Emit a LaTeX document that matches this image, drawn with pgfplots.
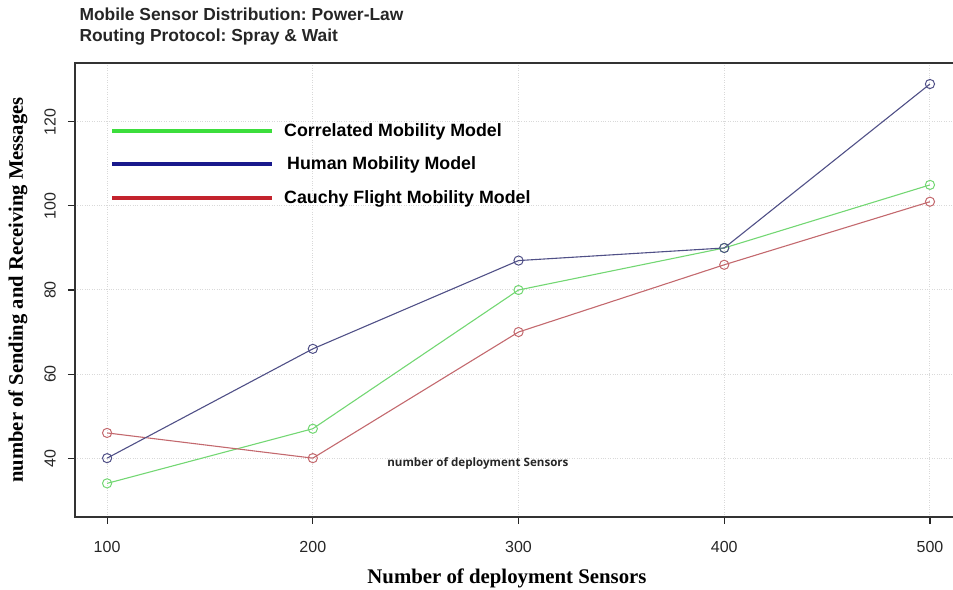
\documentclass[border=0pt]{standalone}
\usepackage{pgfplots}
\pgfplotsset{compat=1.18}
\usepackage{fontspec}
\setmainfont{Liberation Sans}
\newfontfamily\serifb{Liberation Serif}
\newfontfamily\opensans{Open Sans}
\definecolor{cgreen}{RGB}{115,215,115}
\definecolor{cblue}{RGB}{80,80,135}
\definecolor{cred}{RGB}{195,105,110}
\definecolor{lgreen}{RGB}{60,222,60}
\definecolor{lblue}{RGB}{25,25,140}
\definecolor{lred}{RGB}{195,35,45}
\frenchspacing
\begin{document}
\begin{tikzpicture}
\path[use as bounding box] (-75pt,-72pt) rectangle (878pt,517pt);
\begin{axis}[
  at={(0pt,0pt)}, anchor=south west,
  scale only axis, width=878pt, height=454pt,
  xmin=84.4, xmax=511.2, ymin=26, ymax=134,
  clip=false,
  axis line style={draw=none},
  xtick={100,200,300,400,500}, ytick={40,60,80,100,120},
  xtick pos=left, ytick pos=left,
  tick align=outside, major tick length=7pt,
  tick style={black!85, line width=1.1pt},
  grid=major,
  major grid style={gray!30, dotted, line width=1pt},
  ticklabel style={font=\fontsize{16}{18}\selectfont, text=black!85},
  yticklabel={\rotatebox{90}{\pgfmathprintnumber{\tick}}},
  yticklabel style={anchor=east, inner xsep=12pt},
  xticklabel shift=14pt,
  /pgf/number format/assume math mode=true,
  legend style={at={(axis description cs:0.0399,0.867)}, anchor=north west, draw=none, fill=none,
     font=\bfseries\fontsize{17.8}{20}\selectfont, row sep=19pt, inner sep=0pt,
     cells={anchor=west}, nodes={inner xsep=10pt, inner ysep=0pt}},
  legend cell align=left,
  every axis plot/.append style={line width=1.1pt, mark=o, mark size=4.6pt, mark options={line width=1pt}},
]
\draw[line width=1.4pt, black!80] (rel axis cs:1,1) -- (rel axis cs:0,1) -- (rel axis cs:0,0) -- (rel axis cs:1,0);
\addlegendimage{legend image code/.code={\draw[lgreen, line width=4pt] (0pt,0pt) -- (160pt,0pt);}}
\addlegendentry{Correlated Mobility Model}
\addlegendimage{legend image code/.code={\draw[lblue, line width=4pt] (0pt,0pt) -- (160pt,0pt);}}
\addlegendentry{\,Human Mobility Model}
\addlegendimage{legend image code/.code={\draw[lred, line width=4pt] (0pt,0pt) -- (160pt,0pt);}}
\addlegendentry{Cauchy Flight Mobility Model}
\addplot[cgreen, forget plot] coordinates {(100,34) (200,47) (300,80) (400,90) (500,105)};
\addplot[cred, forget plot] coordinates {(100,46) (200,40) (300,70) (400,86) (500,101)};
\addplot[cblue, forget plot] coordinates {(100,40) (200,66) (300,87) (400,90) (500,129)};
\node[anchor=west, font=\opensans\bfseries\fontsize{11.6}{13}\selectfont, text=black!85] at (axis cs:234.5,38.8) {number of deployment Sensors};
\node[anchor=base west, font=\bfseries\fontsize{17.4}{20}\selectfont, text=black!85] at ([xshift=1pt,yshift=42pt]rel axis cs:0,1) {Mobile Sensor Distribution: Power-Law};
\node[anchor=base west, font=\bfseries\fontsize{17.4}{20}\selectfont, text=black!85] at ([xshift=1pt,yshift=21pt]rel axis cs:0,1) {Routing Protocol: Spray \& Wait};
\node[font=\serifb\bfseries\fontsize{20.8}{24}\selectfont] at ([yshift=-61pt]axis description cs:0.492,0) {Number of deployment Sensors};
\node[rotate=90, font=\serifb\bfseries\fontsize{20.6}{24}\selectfont] at ([xshift=-57pt]axis description cs:0,0.5) {number of Sending and Receiving Messages};
\end{axis}
\end{tikzpicture}
\end{document}
